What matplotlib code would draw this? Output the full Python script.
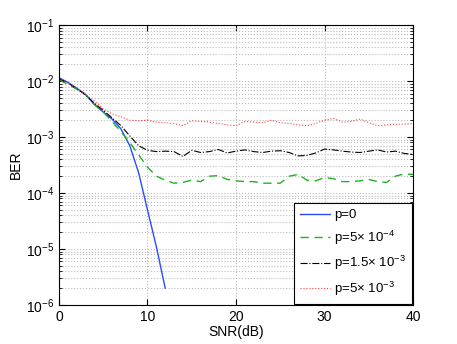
import numpy as np
import matplotlib
matplotlib.use('Agg')
import matplotlib.pyplot as plt
from matplotlib.ticker import LogLocator, NullFormatter, FixedLocator

plt.rcParams['font.family'] = ['Liberation Sans', 'DejaVu Sans']
plt.rcParams['mathtext.fontset'] = 'custom'
plt.rcParams['mathtext.rm'] = 'Liberation Sans'
plt.rcParams['mathtext.it'] = 'Liberation Sans:italic'

# SNR axis (dB)
snr = np.arange(0, 41)
snr_p0 = np.arange(0, 13)

# BER for each p value
ber_p0 = [1.15e-2, 9.5e-3, 7.5e-3, 5.8e-3, 3.8e-3, 2.8e-3, 2.1e-3, 1.4e-3,
          7e-4, 2.3e-4, 5e-5, 1.1e-5, 2e-6]
ber_p5e4 = [1.05e-2, 8.8e-3, 7.2e-3, 5.7e-3, 3.9e-3, 2.8e-3, 1.9e-3, 1.25e-3,
            8e-4, 4.8e-4, 2.9e-4, 2.0e-4, 1.7e-4, 1.5e-4, 1.55e-4, 1.7e-4,
            1.6e-4, 2.0e-4, 2.05e-4, 1.75e-4, 1.65e-4, 1.6e-4, 1.6e-4, 1.5e-4,
            1.5e-4, 1.5e-4, 2.0e-4, 2.15e-4, 1.7e-4, 1.65e-4, 1.9e-4, 1.8e-4,
            1.6e-4, 1.6e-4, 1.65e-4, 1.75e-4, 1.6e-4, 1.55e-4, 2.0e-4, 2.2e-4,
            2.15e-4]
ber_p15e3 = [1.1e-2, 9.3e-3, 7.3e-3, 5.7e-3, 4.0e-3, 3.0e-3, 2.2e-3, 1.6e-3,
             1.05e-3, 7e-4, 5.8e-4, 5.5e-4, 5.6e-4, 5.5e-4, 4.5e-4, 5.8e-4,
             5.3e-4, 5.5e-4, 6.0e-4, 5.2e-4, 5.6e-4, 5.9e-4, 5.5e-4, 5.3e-4,
             5.6e-4, 5.7e-4, 5.3e-4, 4.6e-4, 4.7e-4, 5.2e-4, 6.1e-4, 5.9e-4,
             5.6e-4, 5.4e-4, 5.3e-4, 5.6e-4, 5.9e-4, 5.4e-4, 5.6e-4, 5.1e-4,
             4.9e-4]
ber_p5e3 = [1.12e-2, 9.3e-3, 7.3e-3, 5.8e-3, 4.4e-3, 3.2e-3, 2.6e-3, 2.3e-3,
            2.0e-3, 1.95e-3, 2.0e-3, 1.85e-3, 1.8e-3, 1.75e-3, 1.6e-3, 1.95e-3,
            1.9e-3, 1.85e-3, 1.75e-3, 1.65e-3, 1.6e-3, 1.9e-3, 1.85e-3, 1.8e-3,
            2.0e-3, 1.8e-3, 1.75e-3, 1.65e-3, 1.6e-3, 1.75e-3, 2.0e-3, 2.15e-3,
            1.85e-3, 1.9e-3, 2.1e-3, 1.8e-3, 1.6e-3, 1.65e-3, 1.7e-3, 1.7e-3,
            1.75e-3]

labels = ['p=0', r'p=5$\times$ 10$^{-4}$', r'p=1.5$\times$ 10$^{-3}$',
          r'p=5$\times$ 10$^{-3}$']

fig = plt.figure(figsize=(4.57, 3.44), dpi=100)
ax = fig.add_axes([0.129, 0.1134, 0.775, 0.8136])

ax.semilogy(snr_p0, ber_p0, '-', color='#2b4cff', lw=1.0, label=labels[0])
ax.semilogy(snr, ber_p5e4, '--', color='#1fb31f', lw=1.0, dashes=(6, 4), label=labels[1])
ax.semilogy(snr, ber_p15e3, '-.', color='k', lw=0.8, label=labels[2])
ax.semilogy(snr, ber_p5e3, ':', color='#ff4040', lw=0.8, label=labels[3])

ax.set_xlim(0, 40)
ax.set_ylim(1e-6, 1e-1)
ax.xaxis.set_major_locator(FixedLocator([0, 10, 20, 30, 40]))
ax.yaxis.set_major_locator(LogLocator(base=10, numticks=10))
ax.yaxis.set_minor_locator(LogLocator(base=10, subs=np.arange(2, 10), numticks=20))
ax.yaxis.set_minor_formatter(NullFormatter())

ax.grid(True, which='major', linestyle=':', color='#bbbbbb', lw=0.8)
ax.grid(True, which='minor', axis='y', linestyle=':', color='#bbbbbb', lw=0.8)
ax.tick_params(which='both', direction='in', top=True, right=True, labelsize=10)
ax.tick_params(which='major', length=4)
ax.tick_params(which='minor', length=2)
for s in ax.spines.values():
    s.set_linewidth(0.8)

ax.set_xlabel('SNR(dB)', fontsize=10, labelpad=1)
ax.set_ylabel('BER', fontsize=10, labelpad=2)

leg = ax.legend(loc='lower right', fontsize=9.5, fancybox=False, framealpha=1,
                edgecolor='k', borderaxespad=0.1, handlelength=2.3,
                labelspacing=0.55, borderpad=0.45, handletextpad=0.3)
leg.get_frame().set_linewidth(0.8)

fig.savefig('out.png', dpi=100)
